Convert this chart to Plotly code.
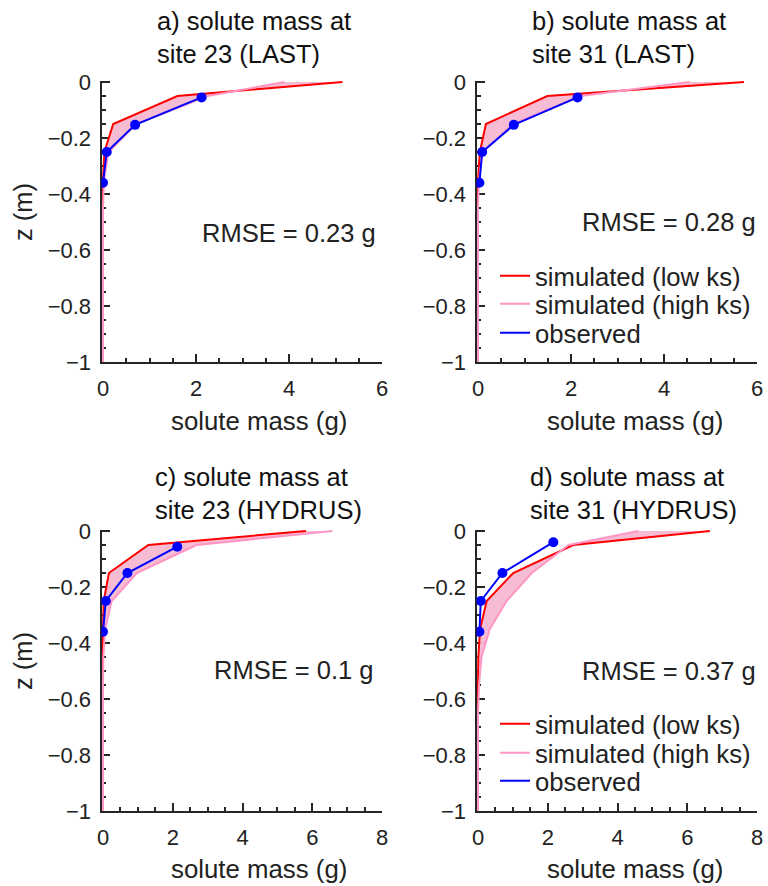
import plotly.graph_objects as go

# ---------------- data ----------------
z_sim = [0, -0.05, -0.15, -0.25, -0.35, -0.45, -0.55, -0.65, -0.75, -0.85, -0.95, -1.0]

# a) site 23 (LAST)
a_low = [5.15, 1.60, 0.22, 0.03, 0.0, 0.0, 0.0, 0.0, 0.0, 0.0, 0.0, 0.0]
a_high = [3.90, 2.25, 0.72, 0.12, 0.02, 0.0, 0.0, 0.0, 0.0, 0.0, 0.0, 0.0]
a_obs_z = [-0.055, -0.153, -0.25, -0.36]
a_obs = [2.12, 0.69, 0.08, 0.0]

# b) site 31 (LAST)
b_low = [5.72, 1.49, 0.17, 0.04, 0.0, 0.0, 0.0, 0.0, 0.0, 0.0, 0.0, 0.0]
b_high = [4.55, 2.20, 0.75, 0.10, 0.02, 0.0, 0.0, 0.0, 0.0, 0.0, 0.0, 0.0]
b_obs_z = [-0.055, -0.153, -0.25, -0.36]
b_obs = [2.14, 0.77, 0.09, 0.03]

# c) site 23 (HYDRUS)
c_low = [5.82, 1.30, 0.17, 0.02, 0.0, 0.0, 0.0, 0.0, 0.0, 0.0, 0.0, 0.0]
c_high = [6.58, 2.68, 0.97, 0.25, 0.06, 0.01, 0.0, 0.0, 0.0, 0.0, 0.0, 0.0]
c_obs_z = [-0.056, -0.15, -0.25, -0.36]
c_obs = [2.13, 0.70, 0.08, 0.0]

# d) site 31 (HYDRUS)
d_low = [6.65, 2.73, 1.01, 0.25, 0.06, 0.01, 0.0, 0.0, 0.0, 0.0, 0.0, 0.0]
d_high = [4.60, 2.60, 1.54, 0.82, 0.34, 0.10, 0.03, 0.0, 0.0, 0.0, 0.0, 0.0]
d_obs_z = [-0.04, -0.15, -0.25, -0.36]
d_obs = [2.16, 0.70, 0.08, 0.04]

titles = ["a) solute mass at<br>site 23 (LAST)",
          "b) solute mass at<br>site 31 (LAST)",
          "c) solute mass at<br>site 23 (HYDRUS)",
          "d) solute mass at<br>site 31 (HYDRUS)"]
rmse_text = ["RMSE = 0.23 g", "RMSE = 0.28 g", "RMSE = 0.1 g", "RMSE = 0.37 g"]
series_names = ["simulated (low ks)", "simulated (high ks)", "observed"]
x_label = "solute mass (g)"
y_label = "z (m)"

y_tick_vals = [0, -0.2, -0.4, -0.6, -0.8, -1.0]
y_tick_text = ["0", "\u22120.2", "\u22120.4", "\u22120.6", "\u22120.8", "\u22121"]
x_max = [6, 6, 8, 8]
x_tick_vals = [[0, 2, 4, 6], [0, 2, 4, 6], [0, 2, 4, 6, 8], [0, 2, 4, 6, 8]]

panels = [(a_low, a_high, a_obs_z, a_obs),
          (b_low, b_high, b_obs_z, b_obs),
          (c_low, c_high, c_obs_z, c_obs),
          (d_low, d_high, d_obs_z, d_obs)]

# ---------------- style / layout ----------------
W, H = 768, 886
FONT = "Liberation Sans, Arial, sans-serif"
TXT = "#222222"
AX = "#262626"
RED = "#ff0000"
PINK = "#ff96c4"
FILL = "rgba(246,184,209,0.95)"
BLUE = "#0000ff"


def fx(px):
    return px / W


def fy(px):
    return 1 - px / H


col_left = [103, 478, 103, 478]
row_top = [82, 82, 531, 531]
AW, AH = 279, 280
PAD = 1.5

# legends: one per row so that row spacing matches
legend_rows = {1: [276, 304, 333], 3: [724, 753, 781]}
legend_ids = {1: ["legend", "legend2", "legend3"], 3: ["legend4", "legend5", "legend6"]}

fig = go.Figure()

for i, (low, high, oz, ob) in enumerate(panels):
    n = "" if i == 0 else str(i + 1)
    xa, ya = "x" + n, "y" + n
    show = i in legend_ids
    ids = legend_ids.get(i, ["legend", "legend", "legend"])
    # shaded band between the two simulations
    fig.add_trace(go.Scatter(
        x=low + high[::-1], y=z_sim + z_sim[::-1], fill="toself",
        fillcolor=FILL, line=dict(width=0), mode="lines",
        hoverinfo="skip", showlegend=False, xaxis=xa, yaxis=ya))
    fig.add_trace(go.Scatter(
        x=low, y=z_sim, mode="lines", line=dict(color=RED, width=2),
        name=series_names[0], showlegend=show, legend=ids[0],
        xaxis=xa, yaxis=ya))
    fig.add_trace(go.Scatter(
        x=high, y=z_sim, mode="lines", line=dict(color=PINK, width=2),
        name=series_names[1], showlegend=show, legend=ids[1],
        xaxis=xa, yaxis=ya))
    fig.add_trace(go.Scatter(
        x=ob, y=oz, mode="lines", line=dict(color=BLUE, width=2),
        name=series_names[2], showlegend=show, legend=ids[2],
        xaxis=xa, yaxis=ya))
    fig.add_trace(go.Scatter(
        x=ob, y=oz, mode="markers", marker=dict(color=BLUE, size=10),
        showlegend=False, xaxis=xa, yaxis=ya))

layout = dict(
    width=W, height=H, margin=dict(l=0, r=0, t=0, b=0, autoexpand=False),
    paper_bgcolor="white", plot_bgcolor="white",
    font=dict(family=FONT, size=22, color=TXT),
    showlegend=True,
)

for i in range(4):
    n = "" if i == 0 else str(i + 1)
    xm = x_max[i]
    padx = PAD * xm / AW
    pady = PAD / AH
    common = dict(showline=True, linecolor=AX, linewidth=2, mirror=False,
                  showgrid=False, zeroline=False, ticks="inside",
                  tickcolor=AX, tickwidth=2, ticklen=8, layer="below traces",
                  automargin=False,
                  tickfont=dict(family=FONT, size=22, color=TXT))
    layout["xaxis" + n] = dict(
        common, domain=[fx(col_left[i] - PAD), fx(col_left[i] + AW)],
        range=[-padx, xm], tickvals=x_tick_vals[i], ticklabelstandoff=6,
        minor=dict(dtick=0.5, ticks="inside", ticklen=4, tickcolor=AX, tickwidth=2),
        anchor="y" + n, fixedrange=True)
    layout["yaxis" + n] = dict(
        common, domain=[fy(row_top[i] + AH), fy(row_top[i] - PAD)],
        range=[-1, pady], tickvals=y_tick_vals, ticktext=y_tick_text,
        ticklabelstandoff=4,
        minor=dict(dtick=0.05, ticks="inside", ticklen=4, tickcolor=AX, tickwidth=2),
        anchor="x" + n, fixedrange=True)

leg_common = dict(xanchor="left", yanchor="middle", bgcolor="rgba(0,0,0,0)",
                  borderwidth=0, font=dict(family=FONT, size=25.7, color=TXT),
                  tracegroupgap=0, itemclick=False, itemdoubleclick=False)
for i, rows in legend_rows.items():
    for lid, ry in zip(legend_ids[i], rows):
        layout[lid] = dict(leg_common, x=fx(495), y=fy(ry))

ann = []
title_x = [155, 530, 153, 528]
title_y = [37, 37, 493, 493]
rmse_x = [200, 580, 212, 580]
rmse_y = [233, 222, 670, 671]
xlab_x = [259, 635, 259, 635]
xlab_y = [421, 421, 869, 869]
ylab_y = [212, 212, 661, 661]
for i in range(4):
    ann.append(dict(text=titles[i], x=fx(title_x[i]), y=fy(title_y[i]),
                    xref="paper", yref="paper", xanchor="left", yanchor="middle",
                    align="left", showarrow=False,
                    font=dict(family=FONT, size=25.5, color="#111111")))
    ann.append(dict(text=rmse_text[i], x=fx(rmse_x[i]), y=fy(rmse_y[i]),
                    xref="paper", yref="paper", xanchor="left", yanchor="middle",
                    showarrow=False, font=dict(family=FONT, size=25.5, color=TXT)))
    ann.append(dict(text=x_label, x=fx(xlab_x[i]), y=fy(xlab_y[i]),
                    xref="paper", yref="paper", xanchor="center", yanchor="middle",
                    showarrow=False, font=dict(family=FONT, size=25.8, color=TXT)))
    if i in (0, 2):
        ann.append(dict(text=y_label, x=fx(23), y=fy(ylab_y[i]), textangle=-90,
                        xref="paper", yref="paper", xanchor="center", yanchor="middle",
                        showarrow=False, font=dict(family=FONT, size=25.5, color=TXT)))
layout["annotations"] = ann

fig.update_layout(**layout)
fig.write_html("out.html",
               config={"displayModeBar": False},
               post_script="document.body.style.margin='0';document.body.style.overflow='hidden';")
